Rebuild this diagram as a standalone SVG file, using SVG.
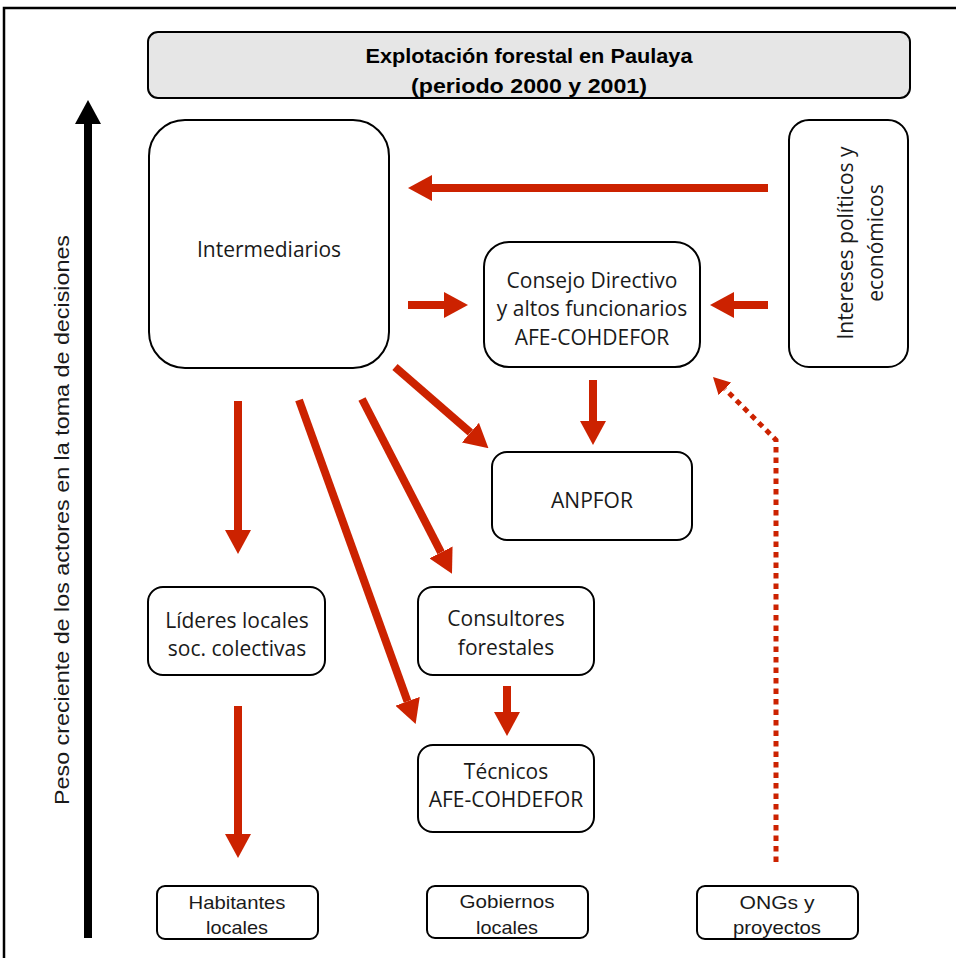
<svg xmlns="http://www.w3.org/2000/svg" width="956" height="958" viewBox="0 0 956 958">
<style>
.box{fill:#fff;stroke:#000;stroke-width:2}
.t{font-family:"Open Sans","Liberation Sans",sans-serif;font-size:21px;fill:#1a1a1a;text-anchor:middle}
.ts{font-family:"Liberation Sans",Arial,sans-serif;font-size:19px;fill:#1a1a1a;text-anchor:middle}
.red{stroke:#cc2200;stroke-width:8;fill:none}
.dot{stroke:#cc2200;stroke-width:5;fill:none;stroke-dasharray:5.5 5}
</style>
<defs>
<marker id="ah" viewBox="0 0 24 26" refX="0" refY="13" markerWidth="24" markerHeight="26" markerUnits="userSpaceOnUse" orient="auto">
<polygon points="0,0 24,13 0,26" fill="#cc2200"/>
</marker>
<marker id="ahd" viewBox="0 0 17 18" refX="0" refY="9" markerWidth="17" markerHeight="18" markerUnits="userSpaceOnUse" orient="auto">
<polygon points="0,0 17,9 0,18" fill="#cc2200"/>
</marker>
</defs>
<rect x="0" y="0" width="956" height="958" fill="#fff"/>
<rect x="4" y="8" width="970" height="970" fill="none" stroke="#000" stroke-width="2.5"/>

<g id="title">
<rect x="148" y="32" width="762" height="66" rx="10" fill="#e6e6e6" stroke="#000" stroke-width="2"/>
<text x="529" y="63" font-family="Liberation Sans, Arial, sans-serif" font-size="20" font-weight="bold" text-anchor="middle" textLength="327" lengthAdjust="spacingAndGlyphs">Explotación forestal en Paulaya</text>
<text x="529" y="93" font-family="Liberation Sans, Arial, sans-serif" font-size="20" font-weight="bold" text-anchor="middle" textLength="236" lengthAdjust="spacingAndGlyphs">(periodo 2000 y 2001)</text>
</g>

<g id="axis">
<line x1="88" y1="938" x2="88" y2="122" stroke="#000" stroke-width="8"/>
<polygon points="88,100 101,124 75,124" fill="#000"/>
<text transform="translate(69,520) rotate(-90)" font-family="Liberation Sans, Arial, sans-serif" font-size="20" fill="#1a1a1a" text-anchor="middle" textLength="570" lengthAdjust="spacingAndGlyphs">Peso creciente de los actores en la  toma de decisiones</text>
</g>

<g id="intermediarios">
<rect class="box" x="149" y="120" width="240" height="248" rx="36"/>
<text class="t" x="269" y="257">Intermediarios</text>
</g>
<g id="consejo">
<rect class="box" x="484" y="242" width="216" height="125" rx="25"/>
<text class="t" x="592" y="288">Consejo Directivo</text>
<text class="t" x="592" y="316">y altos funcionarios</text>
<text class="t" x="592" y="345">AFE-COHDEFOR</text>
</g>
<g id="intereses">
<rect class="box" x="789" y="120" width="119" height="247" rx="20"/>
<text class="t" transform="translate(853,243) rotate(-90)">Intereses políticos y</text>
<text class="t" transform="translate(883,243) rotate(-90)">económicos</text>
</g>
<g id="anpfor">
<rect class="box" x="492" y="452" width="200" height="88" rx="15"/>
<text class="t" x="592" y="508">ANPFOR</text>
</g>
<g id="lideres">
<rect class="box" x="148" y="587" width="177" height="88" rx="15"/>
<text class="t" x="237" y="628">Líderes locales</text>
<text class="t" x="237" y="656">soc. colectivas</text>
</g>
<g id="consultores">
<rect class="box" x="418" y="587" width="176" height="88" rx="15"/>
<text class="t" x="506" y="626">Consultores</text>
<text class="t" x="506" y="655">forestales</text>
</g>
<g id="tecnicos">
<rect class="box" x="418" y="745" width="176" height="87" rx="15"/>
<text class="t" x="506" y="779" font-size="18">Técnicos</text>
<text class="t" x="506" y="807">AFE-COHDEFOR</text>
</g>
<g id="habitantes">
<rect class="box" x="157" y="886" width="161" height="53" rx="8"/>
<text class="ts" x="237" y="909" textLength="97" lengthAdjust="spacingAndGlyphs">Habitantes</text>
<text class="ts" x="237" y="934" textLength="62" lengthAdjust="spacingAndGlyphs">locales</text>
</g>
<g id="gobiernos">
<rect class="box" x="427" y="886" width="161" height="52" rx="8"/>
<text class="ts" x="507" y="908" textLength="95" lengthAdjust="spacingAndGlyphs">Gobiernos</text>
<text class="ts" x="507" y="934" textLength="62" lengthAdjust="spacingAndGlyphs">locales</text>
</g>
<g id="ongs">
<rect class="box" x="697" y="886" width="161" height="53" rx="8"/>
<text class="ts" x="777" y="909" textLength="75" lengthAdjust="spacingAndGlyphs">ONGs y</text>
<text class="ts" x="777" y="934" textLength="88" lengthAdjust="spacingAndGlyphs">proyectos</text>
</g>

<g id="connectors">
<line class="red" x1="768" y1="188" x2="432" y2="188" marker-end="url(#ah)"/>
<line class="red" x1="408" y1="305" x2="444" y2="305" marker-end="url(#ah)"/>
<line class="red" x1="768" y1="305" x2="734" y2="305" marker-end="url(#ah)"/>
<line class="red" x1="593" y1="380" x2="593" y2="421" marker-end="url(#ah)"/>
<line class="red" x1="395" y1="367" x2="470.4" y2="432.6" marker-end="url(#ah)"/>
<line class="red" x1="362" y1="399" x2="441" y2="552.4" marker-end="url(#ah)"/>
<line class="red" x1="299" y1="400" x2="407.5" y2="701.3" marker-end="url(#ah)"/>
<line class="red" x1="238" y1="401" x2="238" y2="530" marker-end="url(#ah)"/>
<line class="red" x1="238" y1="706" x2="238" y2="834" marker-end="url(#ah)"/>
<line class="red" x1="507" y1="686" x2="507" y2="712" marker-end="url(#ah)"/>
<path class="dot" d="M776,862 L776,440 L725,389" marker-end="url(#ahd)"/>
</g>
</svg>
